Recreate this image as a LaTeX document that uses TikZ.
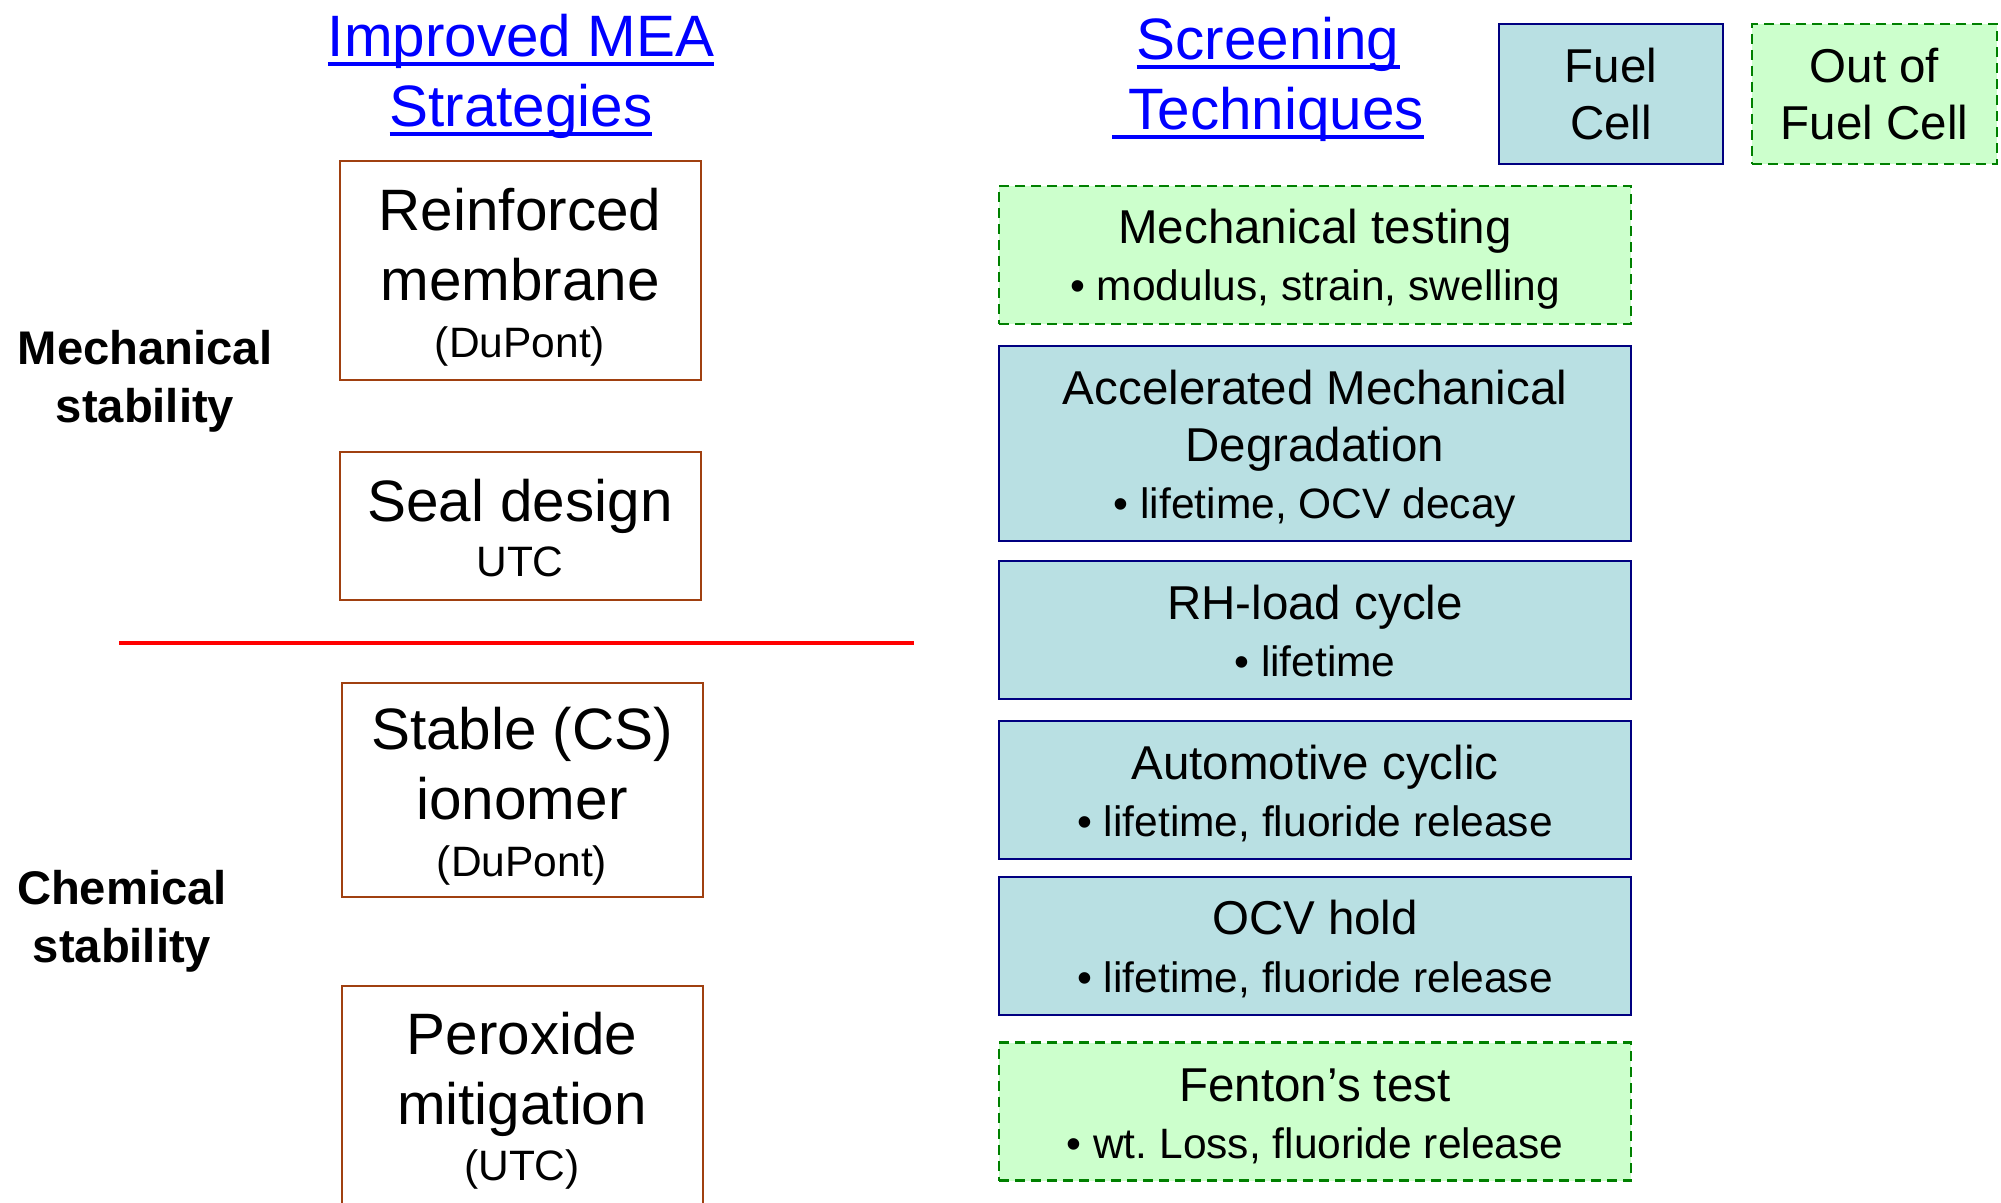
\documentclass[tikz,border=0pt]{standalone}
\usepackage{fontspec}
\setmainfont{Liberation Sans}
\usetikzlibrary{positioning}
\frenchspacing

\definecolor{fcblue}{RGB}{185,224,227}
\definecolor{fcnavy}{RGB}{0,0,128}
\definecolor{ofcgreen}{RGB}{204,255,204}
\definecolor{ofcdash}{RGB}{0,128,0}
\definecolor{meabrown}{RGB}{160,64,16}
\definecolor{titleblue}{RGB}{0,0,255}

% text sizes
\newcommand{\bigtxt}{\fontsize{29.2}{35}\selectfont}
\newcommand{\midtxt}{\fontsize{23.75}{28.5}\selectfont}
\newcommand{\smalltxt}{\fontsize{21.25}{30}\selectfont}
\newcommand{\sidetxt}{\fontsize{23.6}{29}\selectfont\bfseries}

% underline at a fixed depth under the baseline
\newsavebox{\ulbox}
\newcommand{\titleul}[1]{\sbox{\ulbox}{#1}\rlap{\rule[-5.2pt]{\wd\ulbox}{2.3pt}}\usebox{\ulbox}}

\tikzset{
  mea/.style={draw=meabrown, line width=1pt, inner sep=0pt, minimum width=180.5pt},
  meatxt/.style={align=center, inner sep=0pt, font=\bigtxt},
  infc/.style={draw=fcnavy, fill=fcblue, line width=1.2pt, align=center,
    inner sep=0pt, font=\midtxt},
  outfc/.style={draw=ofcdash, fill=ofcgreen, line width=1.2pt,
    dash pattern=on 5pt off 3pt, align=center, inner sep=0pt, font=\midtxt},
  test/.style={minimum width=316pt},
  testtxt/.style={align=center, inner sep=0pt, font=\midtxt},
  heading/.style={align=center, text=titleblue, font=\bigtxt},
  side/.style={align=center, font=\sidetxt}
}

\begin{document}
\begin{tikzpicture}[x=0.5pt, y=-0.5pt]

    \useasboundingbox (0,0) rectangle (2001,1203);

    % Column headings
    \node[heading] (meahead) at (521,76) {\titleul{Improved MEA}\\ \titleul{Strategies}};
    \node[heading] (scrhead) at (1268,79) {\titleul{Screening}\\ \titleul{\ Techniques}};

    % Legend
    \node[infc, minimum width=112pt, minimum height=70pt] (fc) at (1611,94) {Fuel\\ Cell};
    \node[outfc, minimum width=122.5pt, minimum height=70pt] (ofc) at (1874.5,94) {Out of\\ Fuel Cell};

    % Side labels
    \node[side] (mech) at (145,381) {Mechanical\\ stability};
    \node[side] (chem) at (122,921) {Chemical\\ stability};

    % Improved MEA strategies
    \node[mea, minimum height=109.5pt] (reinf) at (520,271) {};
    \node[meatxt] (reinftxt) at ([yshift=-3.2pt]reinf.center)
        {Reinforced\\ membrane\\[-6.5pt] \smalltxt (DuPont)};
    \node[mea, minimum height=74pt] (seal) at (520,526) {};
    \node[meatxt] (sealtxt) at ([yshift=-1pt]seal.center)
        {Seal design\\[-7.2pt] \smalltxt UTC};
    \node[mea, minimum height=107pt] (iono) at (522,790) {};
    \node[meatxt] (ionotxt) at ([yshift=-3.2pt]iono.center)
        {Stable (CS)\\ ionomer\\[-6.5pt] \smalltxt (DuPont)};
    \node[mea, minimum height=110pt] (perox) at (522,1096) {};
    \node[meatxt] (peroxtxt) at ([yshift=-2.2pt]perox.center)
        {Peroxide\\ mitigation\\[-7pt] \smalltxt (UTC)};

    % Divider between mechanical and chemical
    \draw[red, line width=2pt] (119,643) -- (914,643);

    % Screening techniques
    \node[outfc, test, minimum height=69pt] (mtest) at (1315,255) {};
    \node[testtxt] (mtesttxt) at ([yshift=-2.2pt]mtest.center)
        {Mechanical testing\\ \smalltxt • modulus, strain, swelling};
    \node[infc, test, minimum height=97.5pt] (amd) at (1315,443.5) {};
    \node[testtxt] (amdtxt) at ([yshift=-2.5pt]amd.center)
        {Accelerated Mechanical\\ Degradation\\ \smalltxt • lifetime, OCV decay};
    \node[infc, test, minimum height=68.75pt] (rh) at (1315,630) {};
    \node[testtxt] (rhtxt) at ([yshift=-0.5pt]rh.center)
        {RH-load cycle\\ \smalltxt • lifetime};
    \node[infc, test, minimum height=69pt] (auto) at (1315,790) {};
    \node[testtxt] (autotxt) at ([yshift=-2pt]auto.center)
        {Automotive cyclic\\ \smalltxt • lifetime, fluoride release};
    \node[infc, test, minimum height=68.75pt] (ocv) at (1315,946) {};
    \node[testtxt] (ocvtxt) at ([yshift=-1.5pt]ocv.center)
        {OCV hold\\ \smalltxt • lifetime, fluoride release};
    \node[outfc, test, minimum height=69pt] (fenton) at (1315,1111.5) {};
    \node[testtxt] (fentontxt) at ([yshift=-2.2pt]fenton.center)
        {Fenton’s test\\ \smalltxt • wt. Loss, fluoride release};

\end{tikzpicture}
\end{document}
